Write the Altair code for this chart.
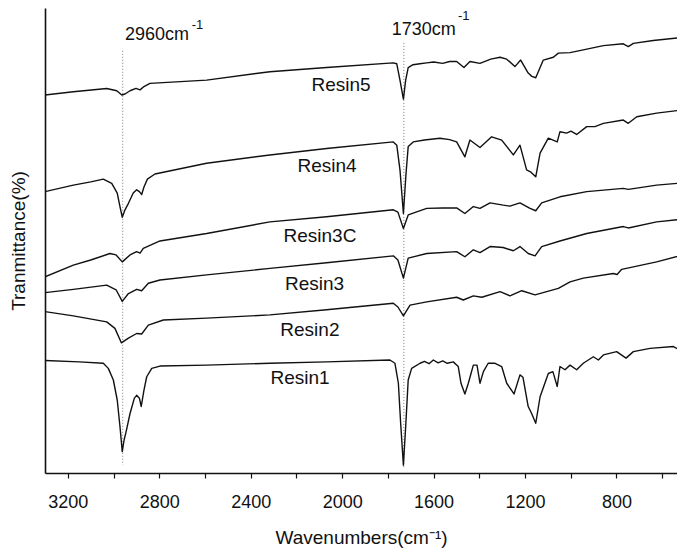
import altair as alt
import pandas as pd

FONT = "Liberation Sans, Arial, sans-serif"

# ---- spectra (wavenumber cm-1, transmittance a.u.) ----
r5_wn = [3300, 3176, 3030, 2986, 2964, 2950, 2928, 2902, 2884, 2867, 2841, 2593, 2316, 2068, 1777,
         1761, 1747, 1732, 1722, 1711, 1690, 1660, 1630, 1600, 1560, 1530, 1499, 1467, 1441, 1397,
         1350, 1309, 1280, 1244, 1219, 1186, 1170, 1153, 1120, 1076, 1054, 1003, 945, 857, 770,
         748, 726, 639, 507]
r5_t = [81.3, 82.0, 82.7, 82.2, 81.3, 81.5, 82.2, 82.7, 82.4, 83.1, 83.8, 84.5, 86.3, 87.2, 88.2,
        88.0, 84.5, 80.4, 84.5, 87.2, 87.8, 88.0, 88.2, 88.4, 88.1, 88.5, 88.5, 87.2, 88.5, 88.1,
        89.0, 89.4, 89.0, 87.4, 88.8, 86.0, 85.3, 85.0, 88.8, 89.4, 90.3, 90.4, 91.0, 91.9, 92.3,
        91.7, 92.4, 93.0, 93.7]

r4_wn = [3300, 3176, 3100, 3045, 3008, 2984, 2972, 2962, 2950, 2935, 2914, 2899, 2887, 2877, 2867,
         2852, 2819, 2593, 2316, 2068, 1776, 1761, 1747, 1732, 1721, 1711, 1689, 1640, 1572, 1530,
         1499, 1463, 1441, 1397, 1346, 1302, 1251, 1222, 1193, 1174, 1153, 1134, 1098, 1059, 1047,
         1018, 999, 974, 930, 894, 857, 770, 748, 711, 624, 507]
r4_t = [60.5, 61.9, 62.6, 63.2, 62.3, 60.2, 57.3, 55.0, 56.6, 58.0, 60.2, 60.9, 60.5, 59.9, 61.5,
        63.2, 64.3, 66.6, 68.4, 69.8, 71.2, 70.5, 65.2, 55.8, 64.1, 70.2, 71.2, 71.6, 72.0, 71.7,
        71.2, 68.0, 71.6, 70.0, 72.3, 71.6, 68.4, 70.5, 65.2, 64.7, 63.7, 68.8, 72.0, 71.2, 73.4,
        73.1, 73.5, 72.8, 74.5, 74.5, 75.2, 75.9, 75.2, 76.6, 77.4, 78.1]

r3c_wn = [3300, 3176, 3100, 3016, 2989, 2962, 2928, 2899, 2884, 2870, 2797, 2593, 2316, 2068, 1776,
          1756, 1732, 1711, 1630, 1560, 1499, 1463, 1426, 1397, 1353, 1295, 1266, 1222, 1178, 1153,
          1127, 1047, 930, 770, 748, 624, 507]
r3c_t = [42.2, 44.7, 45.8, 47.2, 46.9, 45.4, 46.9, 47.6, 47.3, 48.3, 49.9, 51.5, 54.0, 55.1, 56.6,
         56.1, 52.6, 55.5, 56.9, 57.0, 57.0, 55.8, 57.3, 56.9, 58.1, 57.6, 57.4, 58.1, 56.9, 56.4,
         58.1, 59.4, 60.5, 61.2, 61.0, 61.9, 62.4]

r3_wn = [3300, 3176, 3030, 2989, 2962, 2935, 2899, 2877, 2848, 2797, 2593, 2316, 2068, 1776, 1756,
         1732, 1711, 1630, 1499, 1463, 1426, 1397, 1353, 1296, 1251, 1222, 1186, 1156, 1127, 1047,
         930, 770, 748, 624, 507]
r3_t = [38.8, 39.5, 40.4, 39.4, 36.9, 38.6, 39.5, 39.2, 40.8, 41.5, 42.6, 44.0, 45.2, 46.7, 45.8,
        41.9, 46.2, 47.2, 47.6, 46.5, 48.0, 47.4, 48.7, 48.5, 47.8, 48.7, 47.2, 46.7, 48.7, 49.9,
        51.5, 53.0, 52.7, 54.0, 54.6]

r2_wn = [3300, 3176, 3030, 2994, 2966, 2935, 2899, 2877, 2848, 2782, 2593, 2316, 2068, 1776, 1756,
         1732, 1703, 1630, 1499, 1470, 1426, 1389, 1309, 1266, 1214, 1156, 1113, 1054, 1003, 945,
         814, 797, 777, 624, 507]
r2_t = [34.7, 33.8, 32.5, 31.1, 28.0, 29.0, 30.0, 29.9, 31.8, 32.9, 33.3, 34.0, 35.1, 36.5, 35.7,
        33.8, 36.1, 36.8, 37.8, 37.2, 38.1, 37.8, 39.0, 38.1, 39.2, 38.3, 38.9, 39.7, 41.1, 41.9,
        42.9, 42.7, 43.8, 45.4, 46.9]

r1_wn = [3300, 3150, 3045, 3023, 3001, 2984, 2972, 2962, 2954, 2946, 2928, 2909, 2899, 2887, 2879,
         2867, 2855, 2833, 2797, 2593, 2316, 2068, 1791, 1769, 1754, 1744, 1732, 1722, 1711, 1696,
         1659, 1640, 1620, 1601, 1580, 1560, 1540, 1514, 1492, 1480, 1463, 1448, 1426, 1410, 1397,
         1382, 1361, 1331, 1302, 1280, 1248, 1222, 1209, 1186, 1171, 1153, 1134, 1098, 1078, 1059,
         1047, 1025, 1003, 974, 945, 901, 879, 857, 799, 758, 726, 653, 551, 525, 507]
r1_t = [24.2, 23.9, 23.6, 22.5, 20.0, 15.7, 10.0, 4.6, 7.1, 8.7, 12.8, 16.1, 16.7, 16.1, 14.3,
        17.8, 20.7, 22.5, 23.0, 23.2, 23.6, 23.9, 24.3, 23.6, 19.3, 10.7, 1.7, 10.0, 20.0, 22.5,
        23.6, 24.0, 23.5, 24.3, 23.7, 24.1, 23.6, 23.9, 22.9, 19.3, 17.0, 19.3, 23.2, 23.2, 19.3,
        21.8, 23.6, 23.6, 22.9, 19.3, 17.0, 21.1, 20.6, 14.3, 12.8, 10.7, 16.4, 21.4, 21.8, 18.6,
        22.9, 22.2, 23.2, 22.2, 23.6, 25.0, 24.3, 25.4, 26.1, 24.7, 26.1, 26.8, 27.2, 26.5, 27.3]

series = [("Resin5", r5_wn, r5_t), ("Resin4", r4_wn, r4_t), ("Resin3C", r3c_wn, r3c_t),
          ("Resin3", r3_wn, r3_t), ("Resin2", r2_wn, r2_t), ("Resin1", r1_wn, r1_t)]

# ---- curve labels ----
label_names = ["Resin5", "Resin4", "Resin3C", "Resin3", "Resin2", "Resin1"]
label_wn = [2005, 2066, 2097, 2121, 2141, 2184]
label_t = [83.4, 66.0, 51.0, 40.6, 30.8, 20.4]

# ---- peak markers ----
peak_wn = [2960, 1730]
peak_top = [90.8, 92.5]
peak_bottom = [1.7, 1.0]
peak_text = ["2960cm", "1730cm"]
peak_text_wn = [2950, 1783]
peak_text_t = [93.1, 94.1]
sup_text = ["-1", "-1"]
sup_wn = [2658, 1493]
sup_t = [95.4, 97.4]

rows = []
for name, wn, t in series:
    assert len(wn) == len(t), name
    for w, v in zip(wn, t):
        rows.append({"sample": name, "wn": w, "T": v})
df = pd.DataFrame(rows)
df_lab = pd.DataFrame({"name": label_names, "wn": label_wn, "T": label_t})
df_peak = pd.DataFrame({"wn": peak_wn, "top": peak_top, "bottom": peak_bottom})
df_ptxt = pd.DataFrame({"text": peak_text, "wn": peak_text_wn, "T": peak_text_t})
df_sup = pd.DataFrame({"text": sup_text, "wn": sup_wn, "T": sup_t})

xscale = alt.Scale(domain=[535, 3300], reverse=True, nice=False, zero=False)
yscale = alt.Scale(domain=[0, 100], nice=False, zero=False)

x_enc = alt.X(
    "wn:Q", scale=xscale,
    axis=alt.Axis(
        values=list(range(600, 3400, 200)), format="d",
        labelExpr="datum.value % 400 == 0 ? datum.label : ''",
        grid=False, tickSize=5, tickWidth=1.2, domainWidth=1.6,
        domainColor="#111", tickColor="#111", labelColor="#111",
        labelFontSize=18, labelFont=FONT, labelPadding=15, labelFlush=False,
        title="Wavenumbers(cm\u207b\u00b9)", titleFontSize=19, titleFont=FONT,
        titleFontWeight="normal", titleColor="#111", titlePadding=17,
    ),
)
y_enc = alt.Y(
    "T:Q", scale=yscale,
    axis=alt.Axis(
        ticks=False, labels=False, grid=False, domainWidth=1.6, domainColor="#111",
        title="Tranmittance(%)", titleFontSize=19, titleFont=FONT,
        titleFontWeight="normal", titleColor="#111", titlePadding=17,
    ),
)

lines = alt.Chart(df).mark_line(color="#111", strokeWidth=1.4, strokeJoin="round", clip=True).encode(
    x=x_enc, y=y_enc, detail="sample:N", order="wn:Q"
)

labels = alt.Chart(df_lab).mark_text(
    font=FONT, fontSize=19, color="#111", align="center", baseline="middle"
).encode(x=alt.X("wn:Q", scale=xscale), y=alt.Y("T:Q", scale=yscale), text="name:N")

peaks = alt.Chart(df_peak).mark_rule(color="#777", strokeWidth=1, strokeDash=[1, 2]).encode(
    x=alt.X("wn:Q", scale=xscale), y=alt.Y("top:Q", scale=yscale), y2="bottom:Q"
)

ptxt = alt.Chart(df_ptxt).mark_text(
    font=FONT, fontSize=18, color="#111", align="left", baseline="alphabetic"
).encode(x=alt.X("wn:Q", scale=xscale), y=alt.Y("T:Q", scale=yscale), text="text:N")

sup = alt.Chart(df_sup).mark_text(
    font=FONT, fontSize=13, color="#111", align="left", baseline="alphabetic"
).encode(x=alt.X("wn:Q", scale=xscale), y=alt.Y("T:Q", scale=yscale), text="text:N")

chart = alt.layer(peaks, lines, labels, ptxt, sup).properties(
    width=632, height=465,
    autosize=alt.AutoSizeParams(type="none"),
    padding={"left": 37, "top": 0, "right": 0, "bottom": 76},
).configure_view(stroke=None)

chart.save("out.html", embed_options={"renderer": "svg", "actions": False})
